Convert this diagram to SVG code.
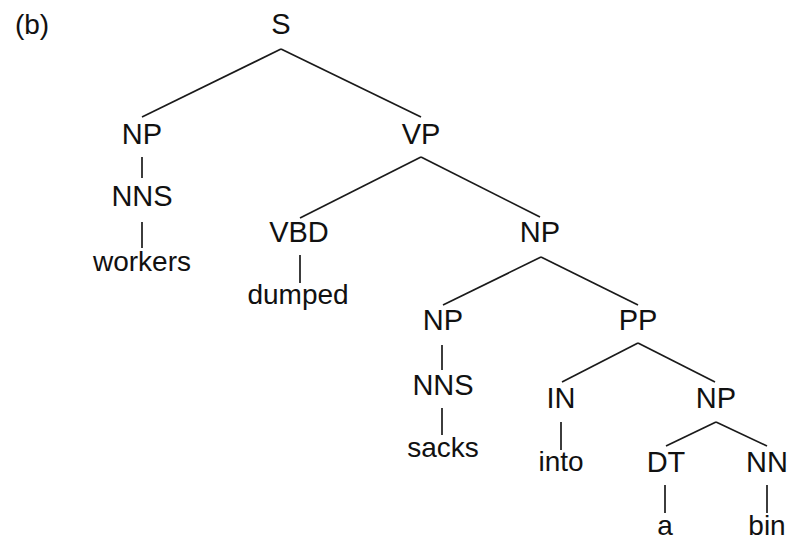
<svg xmlns="http://www.w3.org/2000/svg" width="792" height="541" viewBox="0 0 792 541">
<style>
text{font-family:"Liberation Sans",Arial,sans-serif;font-size:29px;fill:#111;text-anchor:middle}
text.w{font-size:28px}
.e line{stroke:#1a1a1a;stroke-width:1.7;fill:none}
</style>
<rect width="792" height="541" fill="#fff"/>
<text x="32" y="34" class="w">(b)</text>
<g class="e" id="edges">
<line x1="281" y1="49" x2="142" y2="117"/>
<line x1="281" y1="49" x2="421" y2="117"/>
<line x1="142" y1="157" x2="142" y2="178"/>
<line x1="142" y1="222" x2="142" y2="248"/>
<line x1="421" y1="157" x2="300" y2="218"/>
<line x1="421" y1="157" x2="540" y2="217"/>
<line x1="300" y1="255" x2="300" y2="283"/>
<line x1="541" y1="257" x2="443" y2="305"/>
<line x1="541" y1="257" x2="638" y2="305"/>
<line x1="442" y1="345" x2="442" y2="370"/>
<line x1="442" y1="408" x2="442" y2="435"/>
<line x1="638" y1="343" x2="562" y2="382"/>
<line x1="638" y1="343" x2="715" y2="382"/>
<line x1="561" y1="422" x2="561" y2="450"/>
<line x1="716" y1="422" x2="666" y2="446"/>
<line x1="716" y1="422" x2="767" y2="446"/>
<line x1="665" y1="485" x2="665" y2="513"/>
<line x1="767" y1="485" x2="767" y2="513"/>
</g>
<g id="n-S"><text x="281" y="34">S</text></g>
<g id="n-NP1"><text x="142" y="144">NP</text></g>
<g id="n-VP"><text x="421" y="144">VP</text></g>
<g id="n-NNS1"><text x="142" y="206">NNS</text></g>
<g id="n-workers"><text class="w" x="142" y="271">workers</text></g>
<g id="n-VBD"><text x="299" y="242">VBD</text></g>
<g id="n-NP2"><text x="540" y="242">NP</text></g>
<g id="n-dumped"><text class="w" x="298" y="304">dumped</text></g>
<g id="n-NP3"><text x="443" y="330">NP</text></g>
<g id="n-PP"><text x="638" y="330">PP</text></g>
<g id="n-NNS2"><text x="443" y="395">NNS</text></g>
<g id="n-sacks"><text class="w" x="443" y="457">sacks</text></g>
<g id="n-IN"><text x="561" y="408">IN</text></g>
<g id="n-NP4"><text x="716" y="408">NP</text></g>
<g id="n-into"><text class="w" x="561" y="471">into</text></g>
<g id="n-DT"><text x="666" y="472">DT</text></g>
<g id="n-NN"><text x="767" y="472">NN</text></g>
<g id="n-a"><text class="w" x="665" y="535">a</text></g>
<g id="n-bin"><text class="w" x="767" y="535">bin</text></g>
</svg>
